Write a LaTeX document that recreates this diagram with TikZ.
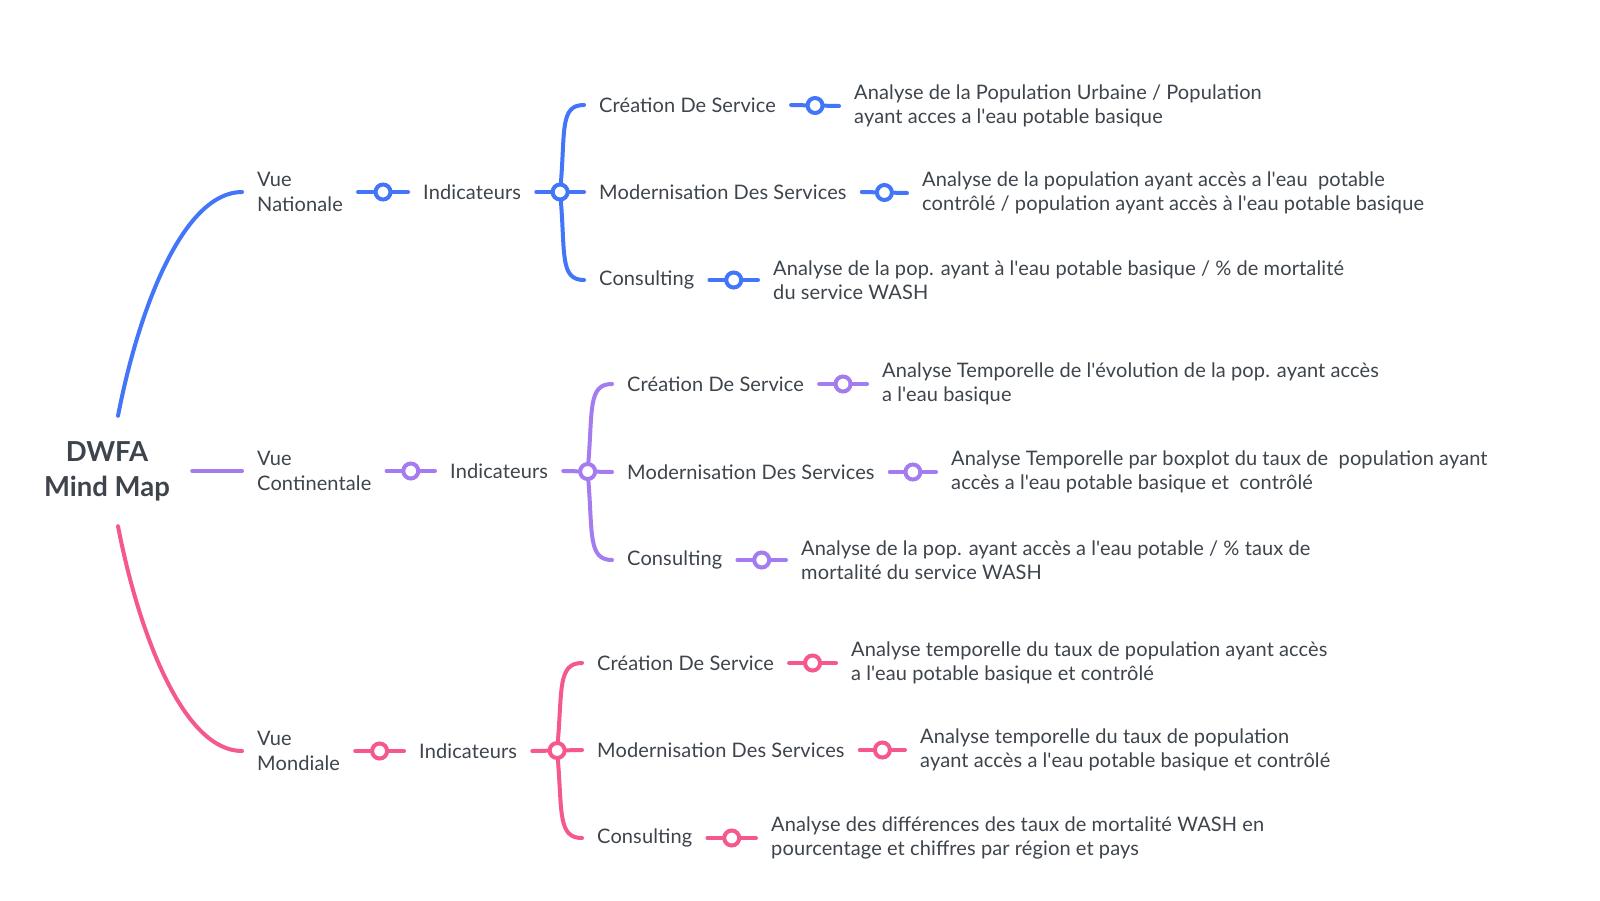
\documentclass[tikz,border=0pt]{standalone}
\usepackage{fontspec}
\setmainfont{Lato}
\usetikzlibrary{calc}
\definecolor{cblue}{RGB}{66,117,247}
\definecolor{cpurp}{RGB}{165,124,240}
\definecolor{cpink}{RGB}{245,89,140}
\definecolor{ctext}{RGB}{62,68,76}
\newcommand\ap{\textquotesingle}
\begin{document}
\begin{tikzpicture}[x=1pt,y=-1pt,
  txt/.style={anchor=west, inner xsep=15pt, inner ysep=2pt, align=left, text=ctext, font=\fontsize{20}{24.5}\selectfont\addfontfeature{LetterSpace=0.6}},
  rootbox/.style={align=center, text=ctext, font=\bfseries\fontsize{27.5}{35}\selectfont, minimum width=170pt, minimum height=110pt, inner sep=0pt},
  dot/.style={circle, draw, fill=white, line width=4pt, minimum size=15pt, inner sep=0pt},
  link/.style={line width=4pt, line cap=round}]
\useasboundingbox (0,0) rectangle (1600,900);
\fill[white] (0,0) rectangle (1600,900);

\node[rootbox] (root) at (107,471) {DWFA\\Mind Map};

% ---------- level 1
\node[txt] (vn) at (242,192) {Vue\\Nationale};
\node[txt] (vc) at (242,471) {Vue\\Continentale};
\node[txt] (vm) at (242,751) {Vue\\Mondiale};

% ---------- indicateurs
\node[txt] (ind1) at (408,192) {Indicateurs};
\node[txt] (ind2) at (435,471) {Indicateurs};
\node[txt] (ind3) at (404,751) {Indicateurs};

% ---------- level 3 blue
\node[txt] (b1) at (584,105) {Création De Service};
\node[txt] (b2) at (584,192) {Modernisation Des Services};
\node[txt] (b3) at (584,280) {Consulting};
\node[txt] (b1t) at (839,106) {Analyse de la Population Urbaine / Population\\ayant acces a l\ap eau potable basique};
\node[txt] (b2t) at (907,193) {Analyse de la population ayant accès a l\ap eau\ \ potable\\contrôlé / population ayant accès à l\ap eau potable basique};
\node[txt] (b3t) at (758,280) {Analyse de la pop. ayant à l\ap eau potable basique / \% de mortalité\\du service WASH};

% ---------- level 3 purple
\node[txt] (p1) at (612,384) {Création De Service};
\node[txt] (p2) at (612,472) {Modernisation Des Services};
\node[txt] (p3) at (612,560) {Consulting};
\node[txt] (p1t) at (867,384) {Analyse Temporelle de l\ap évolution de la pop. ayant accès\\a l\ap eau basique};
\node[txt] (p2t) at (936,472) {Analyse Temporelle par boxplot du taux de\ \ population ayant\\accès a l\ap eau potable basique et\ \ contrôlé};
\node[txt] (p3t) at (786,560) {Analyse de la pop. ayant accès a l\ap eau potable / \% taux de\\mortalité du service WASH};

% ---------- level 3 pink
\node[txt] (k1) at (582,663) {Création De Service};
\node[txt] (k2) at (582,750) {Modernisation Des Services};
\node[txt] (k3) at (582,838) {Consulting};
\node[txt] (k1t) at (836,663) {Analyse temporelle du taux de population ayant accès\\a l\ap eau potable basique et contrôlé};
\node[txt] (k2t) at (905,750) {Analyse temporelle du taux de population\\ayant accès a l\ap eau potable basique et contrôlé};
\node[txt] (k3t) at (756,838) {Analyse des différences des taux de mortalité WASH en\\pourcentage et chiffres par région et pays};

% ---------- root branches
\draw[link,cblue] ($(root.north)+(11,0)$) .. controls +(22,-113) and +(-57,0) .. (vn.west);
\draw[link,cpurp] (root.east) -- (vc.west);
\draw[link,cpink] ($(root.south)+(11,0)$) .. controls +(22,113) and +(-57,0) .. (vm.west);

% ---------- dots
\foreach \a/\b/\c/\n in {vn/ind1/cblue/d1, vc/ind2/cpurp/d2, vm/ind3/cpink/d3,
  ind1/b2/cblue/e1, ind2/p2/cpurp/e2, ind3/k2/cpink/e3,
  b1/b1t/cblue/f1, b2/b2t/cblue/f2, b3/b3t/cblue/f3,
  p1/p1t/cpurp/g1, p2/p2t/cpurp/g2, p3/p3t/cpurp/g3,
  k1/k1t/cpink/h1, k2/k2t/cpink/h2, k3/k3t/cpink/h3}{
  \node[dot,draw=\c] (\n) at ($(\a.east)!0.5!(\b.west)$) {};
  \draw[link,\c] (\a.east) -- (\n) -- (\b.west);
}

% ---------- brackets
\foreach \n/\t/\bb/\c in {e1/b1/b3/cblue, e2/p1/p3/cpurp, e3/k1/k3/cpink}{
  \draw[link,\c] (\n) .. controls +(5,-62) and +(-24,0) .. (\t.west);
  \draw[link,\c] (\n) .. controls +(5,62) and +(-24,0) .. (\bb.west);
}
\end{tikzpicture}
\end{document}
